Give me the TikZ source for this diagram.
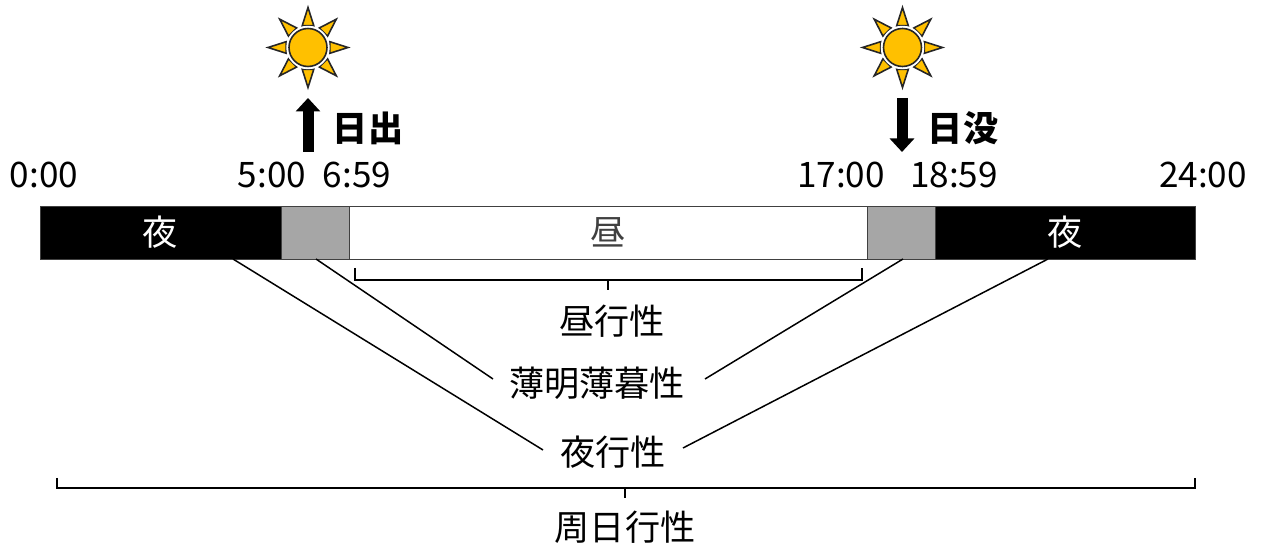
\documentclass[tikz,border=0pt]{standalone}
\usepackage{fontspec}
\setmainfont{Noto Sans CJK JP}
\usetikzlibrary{arrows.meta}
\definecolor{sunfill}{HTML}{FFC000}
\definecolor{sunline}{HTML}{262626}
\definecolor{dusk}{HTML}{A6A6A6}
\begin{document}
\begin{tikzpicture}[x=0.02cm,y=-0.02cm,
  lbl/.style={font=\fontsize{20}{24}\selectfont, inner sep=0pt, anchor=center},
  seg/.style={draw=black!75, line width=0.5pt, minimum height=1.06cm, inner sep=0pt, anchor=center,
    font=\fontsize{20}{24}\selectfont},
  link/.style={line width=0.85pt, black},
  brace/.style={line width=0.85pt, black},
  bigarrow/.style={line width=0.22cm, -{Triangle[length=0.27cm,width=0.48cm]}},
  sunray/.style={fill=sunfill, draw=sunline, line width=0.9pt, line join=miter},
  sunpic/.pic={
    \foreach \a in {0,45,...,315} {
      \filldraw[sunray] (\a:0.8cm) -- (\a+15:0.45cm) -- (\a-15:0.45cm) -- cycle;
    }
    \filldraw[sunray, draw=white, line width=1.4pt] (0,0) circle[radius=0.41cm];
    \filldraw[sunray] (0,0) circle[radius=0.38cm];
  }]
\useasboundingbox (0,0) rectangle (1262,546);

% bar segments
\node[seg, fill=black, text=white, minimum width=4.82cm] (night1) at (160.5,232.5) {夜};
\node[seg, fill=dusk, minimum width=1.36cm] (dawn) at (315,232.5) {};
\node[seg, fill=white, text=black!75, minimum width=10.36cm] (day) at (608,232.5) {昼};
\node[seg, fill=dusk, minimum width=1.36cm] (dusk) at (901,232.5) {};
\node[seg, fill=black, text=white, minimum width=5.2cm] (night2) at (1065,232.5) {夜};

% time labels
\node[lbl] (t0) at (44,175) {0:00};
\node[lbl] (t5) at (272,175) {5:00};
\node[lbl] (t659) at (357,175) {6:59};
\node[lbl] (t17) at (841,175) {17:00};
\node[lbl] (t1859) at (954,175) {18:59};
\node[lbl] (t24) at (1203,175) {24:00};

% suns and arrows
\pic at (308,47.5) {sunpic};
\pic at (902.5,47.5) {sunpic};
\coordinate (rise1) at (308,152);
\coordinate (rise2) at (308,98);
\coordinate (set1) at (902,98);
\coordinate (set2) at (902,152);
\draw[bigarrow] (rise1) -- (rise2);
\draw[bigarrow] (set1) -- (set2);
\node[lbl, font=\fontsize{20}{24}\selectfont\bfseries] (sunrise) at (368,128) {日出};
\node[lbl, font=\fontsize{20}{24}\selectfont\bfseries] (sunset) at (963,128) {日没};

% category labels
\node[lbl] (diurnal) at (612,321) {昼行性};
\node[lbl] (crepus) at (597,383) {薄明薄暮性};
\node[lbl] (noct) at (613,452) {夜行性};
\node[lbl] (circ) at (625,527) {周日行性};

% brackets
\coordinate (db1) at (355,268);
\coordinate (db2) at (862,268);
\draw[brace] (db1) -- (355,280) -- (862,280) -- (db2);
\draw[brace] (608,280) -- (608,290);
\coordinate (cb1) at (57,478);
\coordinate (cb2) at (1195,478);
\draw[brace] (cb1) -- (57,488) -- (1195,488) -- (cb2);
\draw[brace] (625,488) -- (625,498);

% connectors
\coordinate (nL) at (233,259);
\coordinate (nR) at (1048,259);
\coordinate (cL) at (316,259);
\coordinate (cR) at (903,259);
\coordinate (nLe) at (543,450);
\coordinate (nRe) at (683,448);
\coordinate (cLe) at (493,379);
\coordinate (cRe) at (705,379);
\draw[link] (nL) -- (nLe);
\draw[link] (nR) -- (nRe);
\draw[link] (cL) -- (cLe);
\draw[link] (cR) -- (cRe);
\end{tikzpicture}
\end{document}
